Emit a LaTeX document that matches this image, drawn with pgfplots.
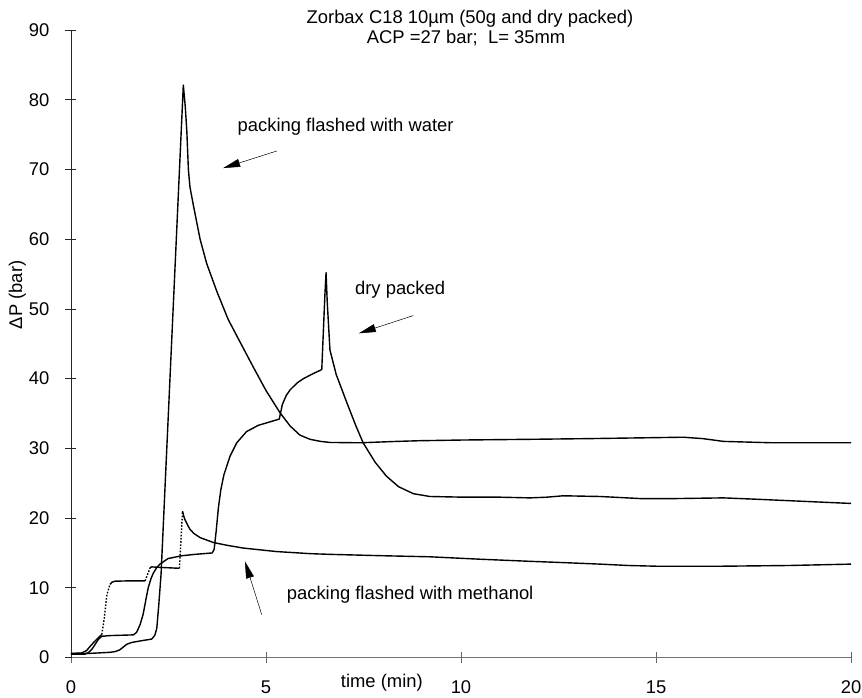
\documentclass[border=0pt]{standalone}
\usepackage{fontspec}
\setmainfont{Liberation Sans}
\usepackage{pgfplots}
\pgfplotsset{compat=1.18}
\usetikzlibrary{arrows.meta}

\begin{document}
\fontsize{18.4}{22}\selectfont
\begin{tikzpicture}[font=\fontsize{18.4}{22}\selectfont]
\begin{axis}[
  scale only axis,
  width=780pt, height=627.5pt,
  xmin=0, xmax=20, ymin=0, ymax=90,
  axis lines=left,
  x axis line style={-, line width=0.6pt, black!55},
  y axis line style={-, line width=0.7pt, black!85},
  xtick={0,5,10,15,20},
  ytick={0,10,...,90},
  tick align=center,
  major tick length=11pt,
  x tick style={line width=0.6pt, black!60},
  y tick style={line width=0.7pt, black!85},
  /pgf/number format/assume math mode=true,
  xticklabel style={anchor=base, inner sep=0pt, yshift=-30pt},
  yticklabel style={anchor=east, inner sep=0pt, xshift=-16pt},
  clip=false,
]

% packing flashed with water
\addplot[black, line width=1.4pt, line join=round] coordinates {
(0,0.55) (0.5,0.6) (1.0,0.75) (1.13,0.85) (1.25,1.1) (1.34,1.5) (1.43,1.9)
(1.55,2.15) (1.64,2.25) (1.85,2.45) (2.07,2.65) (2.15,3.2) (2.2,4.2)
(2.25,7.5) (2.31,12.0) (2.88,82.1) (2.93,79.0) (2.97,75.5) (3.01,70.0)
(3.05,67.5) (3.14,64.8) (3.31,60.0) (3.48,56.5) (3.74,52.5) (4.03,48.5)
(4.33,45.3) (4.67,41.7) (5.0,38.3) (5.36,35.1) (5.62,33.2) (5.87,31.9)
(6.13,31.3) (6.4,31.0) (6.64,30.85) (7.41,30.8) (8.35,31.0) (8.95,31.1)
(10.06,31.2) (11.77,31.3) (13.3,31.4) (14.5,31.5) (15.7,31.6) (16.2,31.4)
(16.73,31.0) (18.0,30.8) (20.0,30.8)
};

% dry packed
\addplot[black, line width=1.4pt, line join=round] coordinates {
(0,0.5) (0.36,0.5) (0.45,0.7) (0.53,1.15) (0.62,1.9) (0.7,2.6) (0.79,3.05)
(1.0,3.15) (1.6,3.25) (1.68,3.6) (1.77,4.7) (1.85,6.2) (1.92,8.3) (1.98,10.0)
(2.05,11.3) (2.11,12.1) (2.2,12.9) (2.28,13.4) (2.49,14.2) (2.84,14.6)
(3.18,14.8) (3.62,15.0) (3.67,15.5) (3.72,18.0) (3.78,21.5) (3.84,24.0)
(3.92,26.2) (4.08,28.9) (4.25,30.8) (4.5,32.4) (4.8,33.3) (5.1,33.8)
(5.34,34.2) (5.37,35.0) (5.42,36.3) (5.52,37.6) (5.62,38.4) (5.8,39.4)
(5.96,40.0) (6.2,40.7) (6.43,41.3) (6.51,52.0) (6.54,55.2) (6.57,51.0)
(6.64,44.1) (6.8,40.6) (7.07,36.6) (7.3,33.3) (7.49,30.8) (7.8,28.0)
(8.09,26.0) (8.4,24.5) (8.78,23.5) (9.2,23.1) (10.06,23.0) (11.0,23.0)
(11.77,22.9) (12.2,23.0) (12.62,23.2) (13.56,23.1) (14.6,22.8) (15.5,22.8)
(16.73,22.9) (17.6,22.7) (18.4,22.5) (19.2,22.3) (20.0,22.1)
};

% packing flashed with methanol: recorded parts
\addplot[black, line width=1.4pt, line join=round] coordinates {
(0,0.6) (0.27,0.65) (0.4,1.0) (0.49,1.6) (0.62,2.4) (0.74,3.05) (0.79,3.3)
};
\addplot[black, line width=1.4pt, line join=round] coordinates {
(1.0,10.5) (1.05,10.8) (1.13,10.95) (1.5,11.0) (1.9,11.0)
};
\addplot[black, line width=1.4pt, line join=round] coordinates {
(2.03,12.9) (2.07,13.0) (2.4,12.9) (2.78,12.8)
};
\addplot[black, line width=1.4pt, line join=round] coordinates {
(2.86,21.0) (2.89,20.3) (2.92,19.8) (3.0,18.9) (3.05,18.4) (3.15,17.8)
(3.31,17.2) (3.65,16.5) (4.0,16.1) (4.42,15.7) (5.27,15.2) (6.13,14.9)
(6.64,14.8) (8.0,14.6) (9.2,14.45) (10.5,14.1) (11.77,13.8) (12.7,13.6)
(13.56,13.4) (14.3,13.2) (15.0,13.1) (16.7,13.1) (18.4,13.2) (20.0,13.4)
};
% packing flashed with methanol: dotted jumps
\addplot[black, line width=1.4pt, dash pattern=on 1.6pt off 1.6pt] coordinates {
(0.79,3.3) (0.85,5.5) (0.92,9.0) (1.0,10.5)
};
\addplot[black, line width=1.4pt, dash pattern=on 1.6pt off 1.6pt] coordinates {
(1.9,11.0) (1.97,12.0) (2.03,12.9)
};
\addplot[black, line width=1.4pt, dash pattern=on 1.6pt off 1.6pt] coordinates {
(2.78,12.8) (2.86,21.0)
};

% title
\node[anchor=base] at (axis cs:10.23,91.0) {Zorbax C18 10µm (50g and dry packed)};
\node[anchor=base] at (axis cs:10.13,88.1) {ACP =27 bar;\ \ L= 35mm};

% axis labels
\node[rotate=90, anchor=base] at (axis cs:-1.256,52.0) {ΔP (bar)};
\node[anchor=base] at (axis cs:7.97,-4.3) {time (min)};

% annotations
\node[anchor=base west, inner sep=0pt] at (axis cs:4.27,75.4) {packing flashed with water};
\draw[line width=0.5pt, -{Triangle[length=17pt, width=8pt]}] (axis cs:5.28,72.66) -- (axis cs:3.90,70.2);
\node[anchor=base west, inner sep=0pt] at (axis cs:7.28,52.0) {dry packed};
\draw[line width=0.5pt, -{Triangle[length=17pt, width=8pt]}] (axis cs:8.78,49.05) -- (axis cs:7.38,46.5);
\node[anchor=base west, inner sep=0pt] at (axis cs:5.53,8.31) {packing flashed with methanol};
\draw[line width=0.5pt, -{Triangle[length=17pt, width=8pt]}] (axis cs:4.89,6.16) -- (axis cs:4.46,13.8);

% page frame
\path (axis cs:-1.8205,94.31) rectangle (axis cs:20.282,-4.805);
\end{axis}
\end{tikzpicture}
\end{document}
